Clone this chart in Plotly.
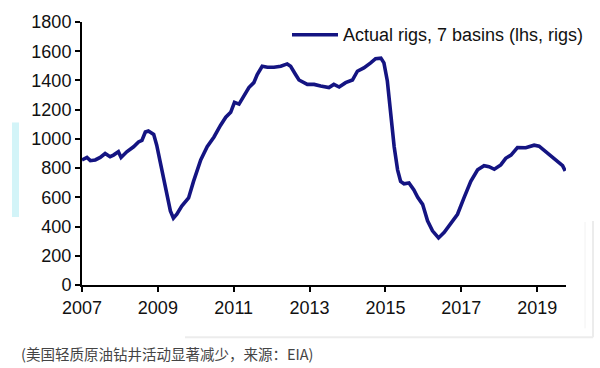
import plotly.graph_objects as go

# Decimal years and rig counts
years = [2007.00, 2007.13, 2007.22, 2007.35, 2007.48, 2007.61, 2007.74, 2007.83, 2007.96,
         2008.03, 2008.18, 2008.36, 2008.49, 2008.58, 2008.67, 2008.75, 2008.89, 2008.97,
         2009.06, 2009.15, 2009.24, 2009.33, 2009.41, 2009.50, 2009.63, 2009.81, 2009.94,
         2010.05, 2010.13, 2010.30, 2010.48, 2010.65, 2010.79, 2010.92, 2011.02, 2011.14,
         2011.27, 2011.40, 2011.53, 2011.62, 2011.75, 2011.89, 2012.06, 2012.24, 2012.41,
         2012.50, 2012.63, 2012.72, 2012.94, 2013.12, 2013.29, 2013.51, 2013.64, 2013.78,
         2013.95, 2014.13, 2014.26, 2014.43, 2014.61, 2014.74, 2014.88, 2014.96, 2015.05,
         2015.14, 2015.23, 2015.32, 2015.40, 2015.49, 2015.62, 2015.75, 2015.85, 2015.98,
         2016.11, 2016.24, 2016.40, 2016.55, 2016.72, 2016.90, 2017.07, 2017.25, 2017.43,
         2017.60, 2017.73, 2017.87, 2018.04, 2018.17, 2018.31, 2018.48, 2018.70, 2018.92,
         2019.05, 2019.23, 2019.36, 2019.54, 2019.67, 2019.74]
rigs = [856, 873, 851, 856, 873, 900, 878, 889, 912,
        873, 912, 946, 979, 990, 1047, 1054, 1031, 957,
        844, 731, 596, 507, 457, 484, 540, 596, 709,
        800, 856, 946, 1013, 1092, 1148, 1182, 1250, 1238,
        1295, 1351, 1385, 1441, 1497, 1490, 1490, 1497, 1513,
        1497, 1441, 1403, 1373, 1373, 1362, 1351, 1373, 1355,
        1385, 1403, 1463, 1486, 1520, 1549, 1553, 1520, 1396,
        1171, 946, 788, 709, 693, 698, 650, 600, 552,
        439, 371, 322, 360, 417, 484, 596, 709, 788,
        817, 810, 792, 822, 867, 889, 941, 939, 957,
        950, 912, 889, 849, 817, 781]

x_ticks = [2007, 2009, 2011, 2013, 2015, 2017, 2019]
y_ticks = [0, 200, 400, 600, 800, 1000, 1200, 1400, 1600, 1800]
series_name = "Actual rigs, 7 basins (lhs, rigs)"
caption = "(美国轻质原油钻井活动显著减少，来源：EIA)"

NAVY = "#141482"
FONT = "Liberation Sans, Arial, sans-serif"

fig = go.Figure()
fig.add_trace(go.Scatter(x=years, y=rigs, mode="lines", name=series_name,
                         line=dict(color=NAVY, width=3.6), showlegend=False))

W, H = 600, 368
ml, mr, mt, mb = 82, 34, 18, 83
pw, ph = W - ml - mr, H - mt - mb

def px(xpix):
    return (xpix - ml) / pw

def py(ypix):
    return (H - mb - ypix) / ph

shapes = [
    # legend line sample
    dict(type="line", xref="paper", yref="paper", x0=px(292), x1=px(338), y0=py(31), y1=py(31),
         line=dict(color=NAVY, width=3.6)),
    # decorative cyan bar at left
    dict(type="rect", xref="paper", yref="paper", x0=px(12), x1=px(19), y0=py(216), y1=py(120),
         fillcolor="#d3f4f8", line=dict(width=0), layer="below"),
    # faint frame lines
    dict(type="line", xref="paper", yref="paper", x0=px(185), x1=px(593), y0=py(338), y1=py(338),
         line=dict(color="#ececec", width=2)),
    dict(type="line", xref="paper", yref="paper", x0=px(593), x1=px(593), y0=py(338), y1=py(220),
         line=dict(color="#ececec", width=2)),
    dict(type="line", xref="paper", yref="paper", x0=px(585), x1=px(585), y0=py(329), y1=py(221),
         line=dict(color="#f2f2f2", width=1)),
]

annotations = [
    dict(xref="paper", yref="paper", x=px(341), y=py(31), xanchor="left", yanchor="middle",
         text=series_name, showarrow=False, font=dict(family=FONT, size=18, color="#111")),
    dict(xref="paper", yref="paper", x=px(19), y=py(355), xanchor="left", yanchor="middle",
         text=caption, showarrow=False,
         font=dict(family="Noto Sans CJK SC, sans-serif", size=14.5, color="#444")),
]

fig.update_layout(
    width=W, height=H,
    margin=dict(l=ml, r=mr, t=mt, b=mb),
    paper_bgcolor="white", plot_bgcolor="white",
    shapes=shapes, annotations=annotations,
    font=dict(family=FONT, size=18, color="#111"),
    xaxis=dict(range=[2007, 2019.76], tickvals=x_ticks, ticktext=[str(t) for t in x_ticks],
               showgrid=False, zeroline=False, showline=True, linecolor="black", linewidth=2,
               ticks="outside", ticklen=5, tickwidth=2, tickcolor="black",
               tickfont=dict(family=FONT, size=18, color="#111")),
    yaxis=dict(range=[0, 1800], tickvals=y_ticks, ticktext=[str(t) for t in y_ticks],
               showgrid=False, zeroline=False, showline=True, linecolor="black", linewidth=2,
               ticks="outside", ticklen=5, tickwidth=2, tickcolor="black",
               tickfont=dict(family=FONT, size=18, color="#111")),
)

fig.write_html("out.html", config={"displayModeBar": False},
               post_script="document.body.style.margin='0';document.body.style.padding='0';")
